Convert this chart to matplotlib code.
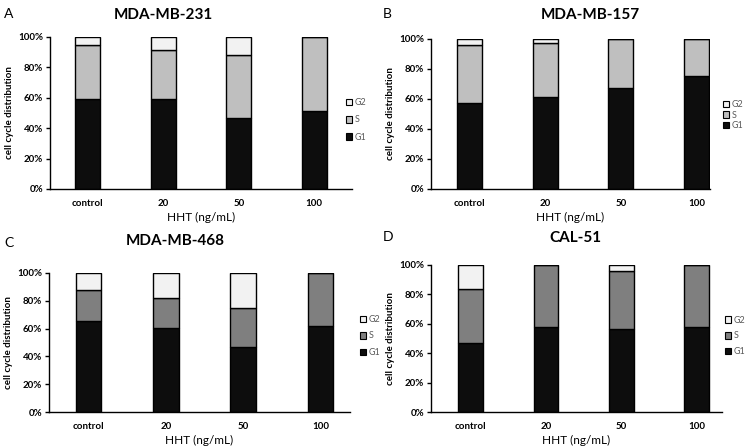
import matplotlib
matplotlib.use('Agg')
import matplotlib.pyplot as plt
from matplotlib.patches import Patch
from matplotlib.ticker import PercentFormatter

plt.rcParams['font.family'] = ['Lato', 'DejaVu Sans']

categories = ['control', '20', '50', '100']
phases = ['G1', 'S', 'G2']

# percent of cells per phase
a_g1 = [59.5, 59.0, 47.0, 51.5]
a_s = [35.0, 32.5, 41.0, 48.5]
a_g2 = [5.5, 8.5, 12.0, 0.0]

b_g1 = [57.5, 61.3, 67.0, 75.0]
b_s = [38.5, 36.0, 33.0, 25.0]
b_g2 = [4.0, 2.7, 0.0, 0.0]

c_g1 = [65.3, 60.5, 47.0, 61.7]
c_s = [22.3, 21.2, 27.5, 38.3]
c_g2 = [12.4, 18.3, 25.5, 0.0]

d_g1 = [47.0, 58.0, 56.5, 57.5]
d_s = [36.7, 42.0, 39.3, 42.5]
d_g2 = [16.3, 0.0, 4.2, 0.0]

W, H = 745, 446

panels = [
    # letter, title, data, S colour, axes box in px (left, top, right, bottom), xlim,
    # title xy, letter xy, legend xy, legend spacing
    ('A', 'MDA-MB-231', (a_g1, a_s, a_g2), '#bfbfbf',
     (50, 37, 352, 189), (-0.5, 3.5), (163, 15), (4, 14), (341, 120), 0.9),
    ('B', 'MDA-MB-157', (b_g1, b_s, b_g2), '#bfbfbf',
     (431, 39, 710, 189), (-0.51, 3.18), (590, 15), (383, 14), (718, 115), 0.15),
    ('C', 'MDA-MB-468', (c_g1, c_s, c_g2), '#7f7f7f',
     (49, 273, 350, 412), (-0.51, 3.38), (175, 241), (4, 243), (355, 336), 0.85),
    ('D', 'CAL-51', (d_g1, d_s, d_g2), '#7f7f7f',
     (431, 265, 722, 412), (-0.53, 3.34), (575, 238), (383, 237), (720, 336), 0.75),
]

fig = plt.figure(figsize=(W / 100, H / 100), dpi=100)

for letter, title, (g1, s, g2), s_col, box, xl, txy, lxy, legxy, lsp in panels:
    l, t, r, b = box
    ax = fig.add_axes([l / W, 1 - b / H, (r - l) / W, (b - t) / H])
    x = range(len(categories))
    kw = dict(width=0.33, edgecolor='black', linewidth=1.0)
    ax.bar(x, g1, color='#0d0d0d', **kw)
    ax.bar(x, s, bottom=g1, color=s_col, **kw)
    ax.bar(x, g2, bottom=[p + q for p, q in zip(g1, s)], color='#f2f2f2', **kw)

    ax.set_xlim(*xl)
    ax.set_ylim(0, 100)
    ax.set_yticks(range(0, 101, 20))
    ax.yaxis.set_major_formatter(PercentFormatter(decimals=0))
    ax.set_xticks(list(x))
    ax.set_xticklabels(categories)
    for sp in ['top', 'right']:
        ax.spines[sp].set_visible(False)
    for sp in ['left', 'bottom']:
        ax.spines[sp].set_linewidth(1.0)
    ax.tick_params(axis='y', length=3, width=1, labelsize=7, pad=2)
    ax.tick_params(axis='x', length=0, labelsize=7, pad=7)
    for tl in ax.get_xticklabels() + ax.get_yticklabels():
        tl.set_fontweight('bold')
    ax.set_xlabel('HHT (ng/mL)', fontsize=8.5, labelpad=3)
    ax.set_ylabel('cell cycle distribution', fontsize=7, fontweight='bold', labelpad=3)

    fig.text(txy[0] / W, 1 - txy[1] / H, title, fontsize=11, fontweight='bold',
             ha='center', va='center')
    fig.text(lxy[0] / W, 1 - lxy[1] / H, letter, fontsize=10, ha='left', va='center')

    handles = [Patch(facecolor='#f2f2f2', edgecolor='black', linewidth=0.8),
               Patch(facecolor=s_col, edgecolor='black', linewidth=0.8),
               Patch(facecolor='#0d0d0d', edgecolor='black', linewidth=0.8)]
    leg = fig.legend(handles, ['G2', 'S', 'G1'], loc='center left',
                     bbox_to_anchor=(legxy[0] / W, 1 - legxy[1] / H),
                     frameon=False, fontsize=6.5, handlelength=0.7, handleheight=0.7,
                     handletextpad=0.3, labelspacing=lsp, borderpad=0)
    for tx in leg.get_texts():
        tx.set_color('#595959')

fig.savefig('out.png', dpi=100)
